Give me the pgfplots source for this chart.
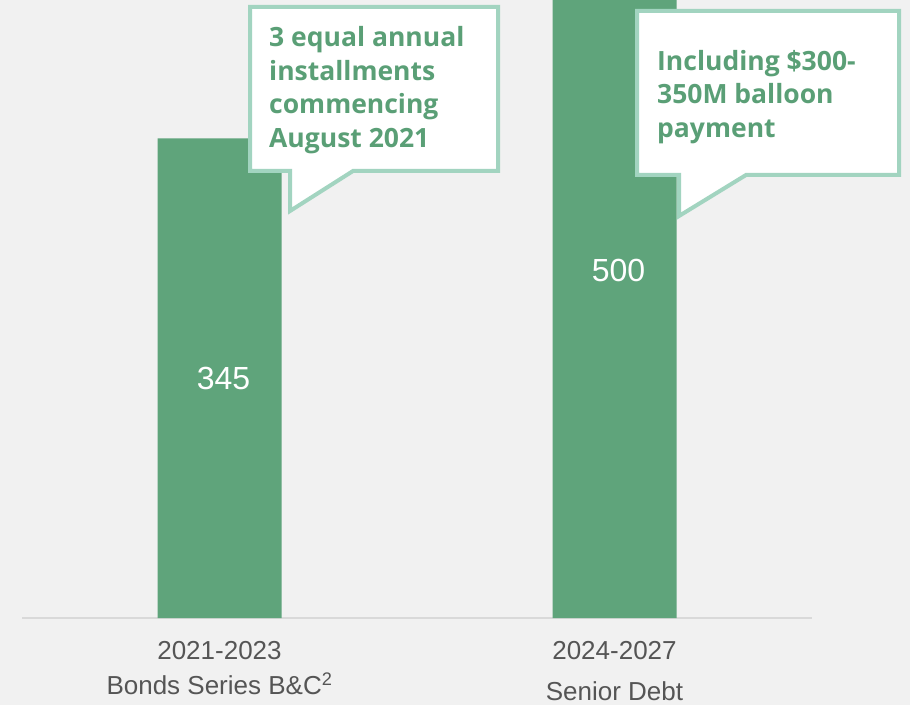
\documentclass[border=0pt]{standalone}
\usepackage{pgfplots}
\pgfplotsset{compat=1.18}
\usepackage{fontspec}
\setmainfont{Liberation Sans}
\newfontfamily\callfont{Open Sans}
\definecolor{bgc}{HTML}{F1F1F1}
\definecolor{barc}{HTML}{5FA47B}
\definecolor{edgec}{HTML}{A2D4C0}
\definecolor{txtc}{HTML}{5A9F76}
\definecolor{tickc}{HTML}{555555}
\definecolor{linec}{HTML}{D9D9D9}
\begin{document}
\begin{tikzpicture}[x=1pt,y=1pt]
\useasboundingbox (0,0) rectangle (910,705);
\fill[bgc] (0,0) rectangle (910,705);
\begin{axis}[
  at={(22pt,87pt)}, anchor=south west,
  scale only axis, width=790pt, height=618pt,
  xmin=-0.5, xmax=1.5, ymin=0, ymax=444.6,
  axis x line=bottom, axis y line=none,
  x axis line style={-, draw=linec, line width=2pt},
  xtick=data, major tick length=0pt,
  xticklabels={{2021-2023\\[-3pt]Bonds Series B\&C\textsuperscript{2}},{2024-2027\\[3pt]Senior Debt}},
  xticklabel style={align=center, font=\fontsize{26}{38}\selectfont, text=tickc, yshift=-20pt},
  ybar, bar width=124pt,
]
\addplot[fill=barc, draw=none] coordinates {(0,345) (1,500)};
\node[text=white, xshift=4pt, font=\fontsize{32}{36}\selectfont] at (axis cs:0,172.5) {345};
\node[text=white, xshift=4pt, font=\fontsize{32}{36}\selectfont] at (axis cs:1,250) {500};
\end{axis}
% callout 1
\draw[edgec, line width=4pt, fill=white, line join=miter]
  (250,705-7) -- (498,705-7) -- (498,705-171) -- (353,705-171) -- (290,705-211) -- (290,705-171) -- (250,705-171) -- cycle;
\begin{scope}[every node/.style={anchor=base west, inner sep=0pt, text=txtc, font=\callfont\bfseries\fontsize{26.5}{33}\selectfont}]
\node at (269,705-47) {3 equal annual};
\node at (269,705-80.5) {installments};
\node at (269,705-114) {commencing};
\node at (269,705-147.5) {August 2021};
\end{scope}
% callout 2
\draw[edgec, line width=4pt, fill=white, line join=miter]
  (637,705-11) -- (899,705-11) -- (899,705-175) -- (746,705-175) -- (679,705-216) -- (679,705-175) -- (637,705-175) -- cycle;
\begin{scope}[every node/.style={anchor=base west, inner sep=0pt, text=txtc, font=\callfont\bfseries\fontsize{26.5}{33}\selectfont}]
\node at (657,705-70.5) {Including \$300-};
\node at (657,705-104) {350M balloon};
\node at (657,705-137.5) {payment};
\end{scope}
\end{tikzpicture}
\end{document}
